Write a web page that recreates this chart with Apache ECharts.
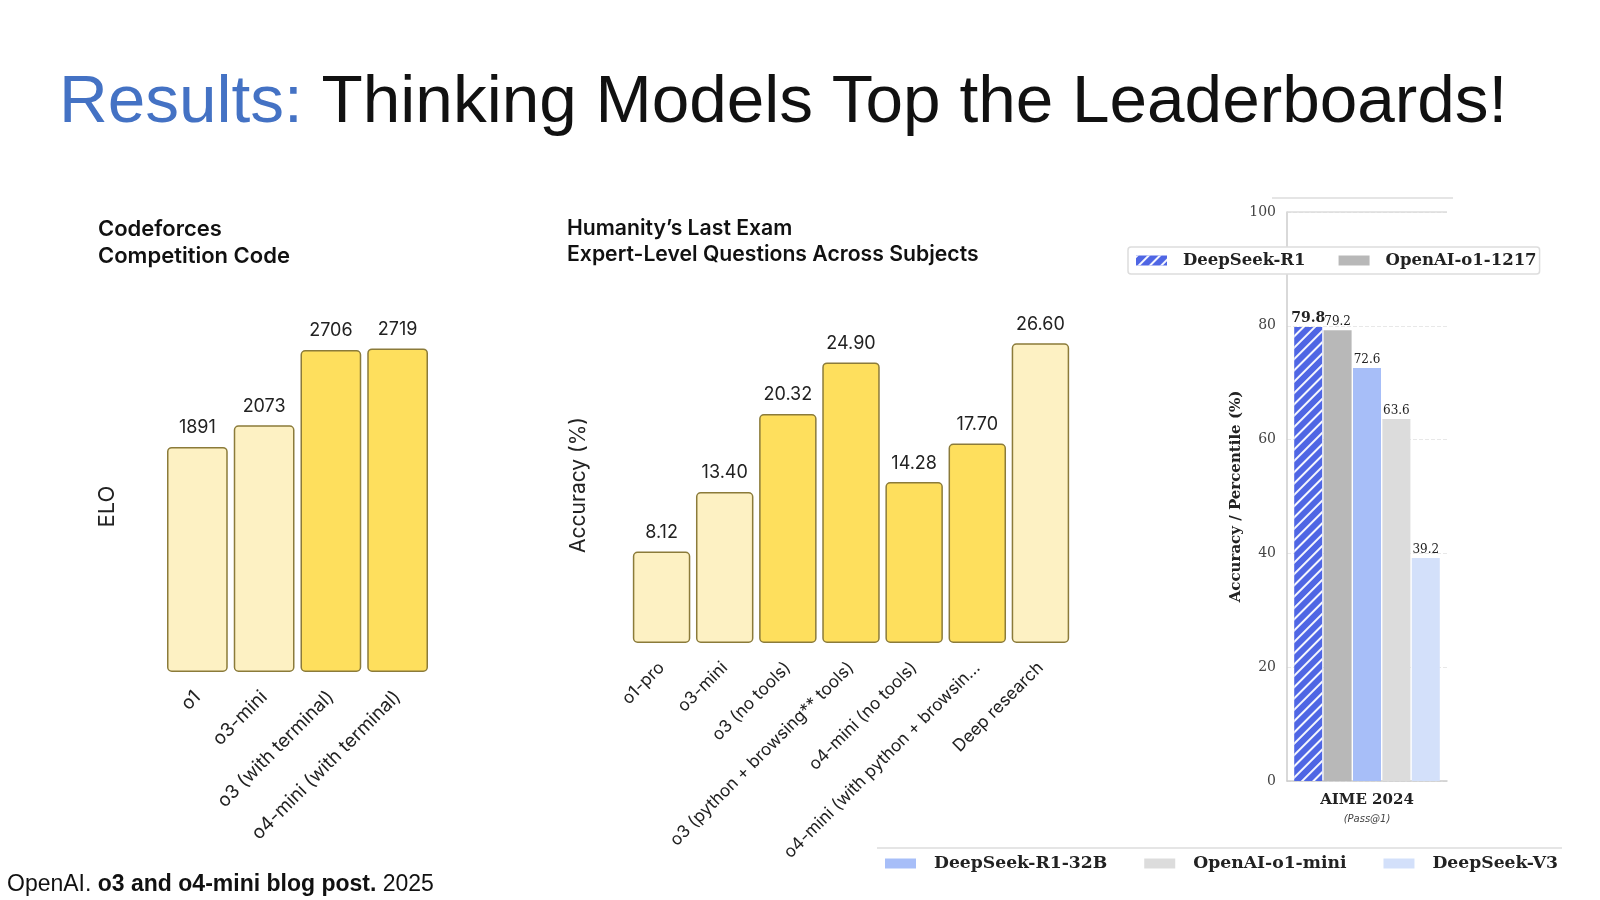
<!DOCTYPE html>
<html>
<head>
<meta charset="utf-8">
<script src="https://cdn.jsdelivr.net/npm/echarts@6/dist/echarts.min.js"></script>
<style>
  html, body { margin: 0; padding: 0; background: #fff; }
  #slide { width: 1600px; height: 900px; }
</style>
</head>
<body>
<div id="slide"></div>
<script>
(() => {
    // Codeforces panel
    const cfModels = ['o1', 'o3-mini', 'o3 (with terminal)', 'o4-mini (with terminal)'];
    const cfElo = [1891, 2073, 2706, 2719];
    const cfTone = ['light', 'light', 'dark', 'dark'];

    // Humanity's Last Exam panel
    const hleModels = ['o1-pro', 'o3-mini', 'o3 (no tools)', 'o3 (python + browsing** tools)',
        'o4-mini (no tools)', 'o4-mini (with python + browsin...', 'Deep research'];
    const hleAcc = [8.12, 13.40, 20.32, 24.90, 14.28, 17.70, 26.60];
    const hleTone = ['light', 'light', 'dark', 'dark', 'dark', 'dark', 'light'];

    // AIME 2024 panel
    const aimeCategory = ['AIME 2024'];
    const aimeModels = ['DeepSeek-R1', 'OpenAI-o1-1217', 'DeepSeek-R1-32B', 'OpenAI-o1-mini', 'DeepSeek-V3'];
    const aimeScores = [79.8, 79.2, 72.6, 63.6, 39.2];
    const aimeTicks = [0, 100, 20];

    const TONES = {light: '#FDF1C3', dark: '#FEDF5D'};
    const EDGE = '#8B7B3A';
    const AIME_COLORS = ['#4F66E4', '#B8B8B8', '#A7BEF8', '#DCDCDC', '#D3E0FA'];
    const SANS = 'Inter';
    const SERIF = 'DejaVu Serif';

    let chart = echarts.init(document.getElementById('slide'));

    function yellowBars(values, tones, idx, digits) {
        return {
            type: 'bar',
            xAxisIndex: idx,
            yAxisIndex: idx,
            barCategoryGap: '9%',
            data: values.map((v, i) => ({
                value: v,
                itemStyle: {color: TONES[tones[i]]}
            })),
            itemStyle: {borderColor: EDGE, borderWidth: 1.5, borderRadius: 4},
            label: {
                show: true,
                position: 'top',
                distance: 10,
                fontFamily: SANS,
                fontSize: 18,
                color: '#222',
                formatter: p => digits ? p.value.toFixed(digits) : String(p.value)
            }
        };
    }

    // hidden value axis that only shows its rotated name
    function plainY(name, gap, max, grid, size, shift) {
        return {
            type: 'value', gridIndex: grid, min: 0, max: max,
            name: name, nameLocation: 'middle', nameGap: gap,
            nameTextStyle: {fontFamily: SANS, fontSize: size, color: '#222', padding: [0, shift, 0, 0]},
            axisLine: {show: false}, axisTick: {show: false},
            axisLabel: {show: false}, splitLine: {show: false}
        };
    }

    function rotatedX(names, grid, margin, size) {
        return {
            type: 'category', gridIndex: grid, data: names,
            axisLine: {show: false}, axisTick: {show: false},
            axisLabel: {interval: 0, rotate: 45, margin: margin, fontFamily: SANS, fontSize: size, color: '#222'}
        };
    }

    let aimeSeries = aimeModels.map((name, i) => {
        let s = {
            name: name,
            type: 'bar',
            xAxisIndex: 2,
            yAxisIndex: 2,
            barWidth: 28,
            barGap: '5%',
            data: [aimeScores[i]],
            itemStyle: {color: AIME_COLORS[i]},
            label: {
                show: true,
                position: 'top',
                distance: 2,
                fontFamily: SERIF,
                fontSize: i === 0 ? 14 : 12,
                fontWeight: i === 0 ? 'bold' : 'normal',
                color: '#222'
            }
        };
        if (i === 0) {
            s.itemStyle.decal = {
                symbol: 'rect',
                symbolSize: 1,
                dashArrayX: [1, 0],
                dashArrayY: [2, 6],
                rotation: -Math.PI / 4,
                color: 'rgba(255,255,255,0.95)'
            };
            s.markLine = {
                silent: true,
                symbol: 'none',
                label: {show: false},
                lineStyle: {color: '#dcdcdc', type: 'solid', width: 1.5},
                data: [{yAxis: aimeTicks[1]}]
            };
        }
        return s;
    });

    const legendBase = {
        orient: 'horizontal',
        icon: 'rect',
        itemWidth: 31,
        itemHeight: 10,
        backgroundColor: '#fff',
        borderRadius: 3,
        selectedMode: false
    };

    let option = {
        animation: false,
        backgroundColor: '#fff',
        graphic: [
            {
                type: 'text', x: 59, y: 103,
                style: {
                    text: '{b|Results:} Thinking Models Top the Leaderboards!',
                    fontFamily: 'Liberation Sans', fontSize: 67.5, fill: '#111',
                    textVerticalAlign: 'middle',
                    rich: {b: {fill: '#4472C4', fontFamily: 'Liberation Sans', fontSize: 67.5}}
                }
            },
            {
                type: 'text', x: 98, y: 216,
                style: {
                    text: 'Codeforces\nCompetition Code',
                    fontFamily: SANS, fontWeight: 600, fontSize: 22, lineHeight: 27, fill: '#111'
                }
            },
            {
                type: 'text', x: 567, y: 216,
                style: {
                    text: 'Humanity\u2019s Last Exam\nExpert-Level Questions Across Subjects',
                    fontFamily: SANS, fontWeight: 600, fontSize: 21.2, lineHeight: 26, fill: '#111'
                }
            },
            {
                type: 'text', x: 7, y: 885,
                style: {
                    text: '{n|OpenAI. }{b|o3 and o4-mini blog post.}{n| 2025}',
                    textVerticalAlign: 'middle',
                    fill: '#111',
                    rich: {
                        n: {fontFamily: 'Liberation Sans', fontSize: 23, fill: '#111'},
                        b: {fontFamily: 'Liberation Sans', fontSize: 23, fontWeight: 'bold', fill: '#111'}
                    }
                }
            },
            {
                type: 'line', shape: {x1: 1272, y1: 198, x2: 1453, y2: 198},
                style: {stroke: '#dddddd', lineWidth: 1.5}
            },
            {
                type: 'line', shape: {x1: 877, y1: 848, x2: 1562, y2: 848},
                style: {stroke: '#dddddd', lineWidth: 1.5}
            }
        ],
        grid: [
            {left: 164, top: 315, width: 267, height: 357},
            {left: 630, top: 305, width: 442, height: 338},
            {left: 1287, top: 212, width: 160, height: 569}
        ],
        xAxis: [
            rotatedX(cfModels, 0, 22, 18.8),
            rotatedX(hleModels, 1, 22, 17.2),
            {
                type: 'category', gridIndex: 2, data: aimeCategory,
                axisLine: {lineStyle: {color: '#cccccc', width: 1.5}},
                axisTick: {show: false},
                axisLabel: {
                    margin: 8,
                    formatter: v => '{a|' + v + '}\n{b|(Pass@1)}',
                    rich: {
                        a: {fontFamily: SERIF, fontWeight: 'bold', fontSize: 15, color: '#222', lineHeight: 22},
                        b: {fontFamily: 'DejaVu Sans', fontStyle: 'italic', fontSize: 10, color: '#444', lineHeight: 16}
                    }
                }
            }
        ],
        yAxis: [
            plainY('ELO', 46, 3000, 0, 22, 26),
            plainY('Accuracy (%)', 41, 30, 1, 21, 22),
            {
                type: 'value', gridIndex: 2,
                min: aimeTicks[0], max: aimeTicks[1], interval: aimeTicks[2],
                name: 'Accuracy / Percentile (%)', nameLocation: 'middle', nameGap: 43,
                nameTextStyle: {fontFamily: SERIF, fontWeight: 'bold', fontSize: 15, color: '#222'},
                axisLine: {show: true, lineStyle: {color: '#cccccc', width: 1.5}},
                axisTick: {show: false},
                axisLabel: {margin: 11, fontFamily: SERIF, fontSize: 14, color: '#444'},
                splitLine: {show: true, lineStyle: {color: '#e8e8e8', type: 'dashed'}}
            }
        ],
        legend: [
            Object.assign({}, legendBase, {
                data: aimeModels.slice(0, 2), left: 1128, top: 247,
                itemGap: 33,
                borderColor: '#dddddd', borderWidth: 1.5,
                padding: [5, 3, 5, 8],
                textStyle: {fontFamily: SERIF, fontWeight: 'bold', fontSize: 16.5, color: '#222', padding: [0, 0, 0, 11]}
            }),
            Object.assign({}, legendBase, {
                data: aimeModels.slice(2), left: 877, top: 852,
                itemGap: 37,
                borderWidth: 0,
                padding: [3, 3, 3, 8],
                textStyle: {fontFamily: SERIF, fontWeight: 'bold', fontSize: 17.2, color: '#222', padding: [0, 0, 0, 13]}
            })
        ],
        series: [
            yellowBars(cfElo, cfTone, 0, 0),
            yellowBars(hleAcc, hleTone, 1, 2)
        ].concat(aimeSeries)
    };

    chart.setOption(option);
})();
</script>
</body>
</html>
